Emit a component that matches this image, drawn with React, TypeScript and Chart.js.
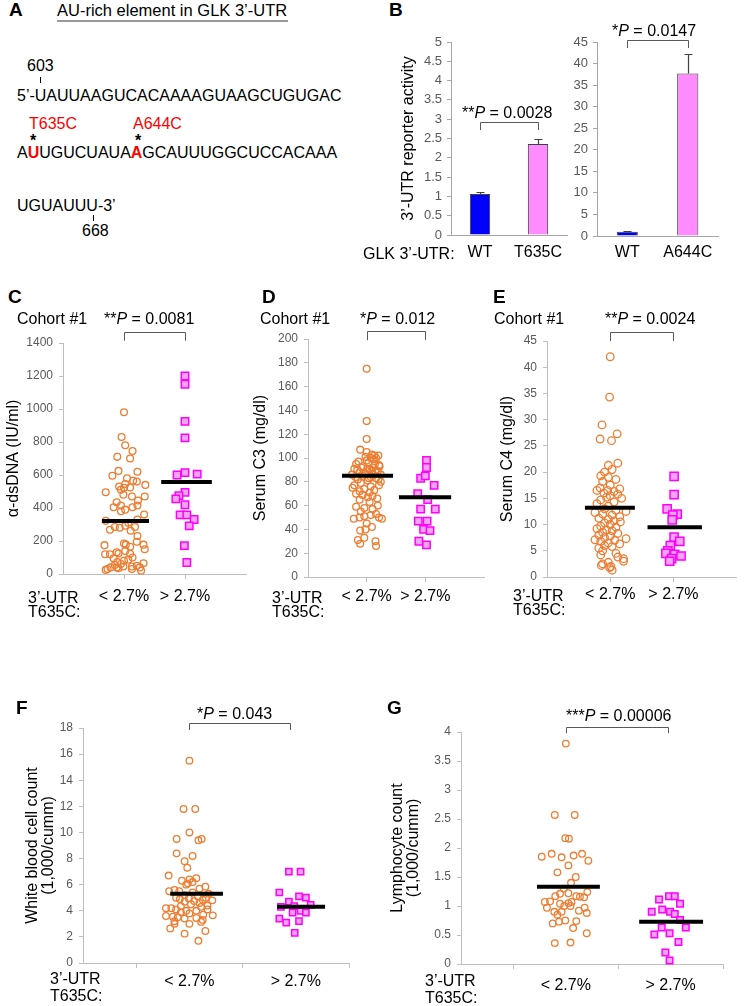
import React, { useEffect, useRef } from 'react';
import { Chart, registerables } from 'chart.js';

Chart.register(...registerables);

const FONT = '"Liberation Sans", Arial, Helvetica, sans-serif';
Chart.defaults.font.family = FONT;

// ---------------- Panel B data ----------------
const bLabelsT635C = ['WT', 'T635C'];
const bValuesT635C = [1.06, 2.36];
const bErrorsT635C = [0.05, 0.12];
const bLabelsA644C = ['WT', 'A644C'];
const bValuesA644C = [1.0, 37.7];
const bErrorsA644C = [0.15, 4.6];
const barColors = ['#0000ff', '#ff8cff'];

// ---------------- Scatter panels ----------------
const groupLabels = ['< 2.7%', '> 2.7%'];

// C: anti-dsDNA (IU/ml)
const cLowValues = [980, 830, 780, 745, 710, 700, 625, 620, 595, 580, 565, 560, 545, 540, 530, 522, 525, 510, 495, 480, 470, 470, 445, 435, 415, 415, 405, 405, 390, 380, 360, 322, 330, 310, 292, 285, 285, 280, 268, 262, 230, 195, 185, 178, 175, 178, 165, 150, 140, 132, 124, 120, 120, 122, 100, 95, 87, 80, 72, 65, 60, 55, 50, 45, 45, 40, 40, 40, 35, 30, 30, 25, 20];
const cLowJitter = [0, -0.04, 0.02, 0.14, -0.11, 0.10, -0.09, 0.22, -0.19, 0.05, 0.15, 0.21, 0.02, 0.35, -0.08, 0, 0.10, -0.05, -0.30, -0.01, 0.13, 0.34, 0.23, -0.12, -0.05, 0.22, 0.14, -0.17, 0.02, -0.05, 0.33, -0.30, 0.22, 0.07, 0.02, -0.15, 0.18, -0.07, -0.23, 0.11, 0.22, 0.21, 0, 0.03, -0.32, 0.32, 0.10, 0.34, 0.02, -0.12, -0.09, -0.23, -0.31, 0.10, 0.14, -0.17, 0.07, 0, -0.11, 0.32, -0.05, -0.15, 0.21, 0.13, -0.01, -0.12, -0.22, 0.26, -0.09, -0.27, 0.13, -0.30, 0.28];
const cHighValues = [1200, 1150, 925, 825, 614, 600, 605, 495, 475, 455, 420, 358, 358, 330, 292, 172, 70];
const cHighJitter = [0, 0, 0, 0, 0, -0.13, 0.2, 0, -0.10, -0.15, 0, -0.08, 0.03, 0.15, 0.07, -0.01, 0.03];
const cMeans = [321, 557];

// D: serum C3 (mg/dl)
const dLowValues = [175, 131, 116, 107, 105, 103, 102, 102, 100, 100, 98, 95, 94, 93, 92, 91, 90, 89, 88, 87, 86, 86, 85, 84, 83, 82, 81, 80, 79, 77, 77, 76, 75, 74, 73, 72, 71, 70, 69, 68, 67, 66, 65, 63, 60, 59, 58, 57, 55, 53, 52, 51, 50, 50, 49, 49, 45, 42, 40, 39, 33, 31, 28, 30, 26, 101, 99, 97, 96, 95, 93, 92, 91, 90, 89, 88, 87, 86, 84, 83, 82];
const dLowJitter = [0, 0, 0, -0.11, 0, 0.09, 0.13, 0.20, 0.07, 0.16, 0, -0.18, 0.21, -0.06, 0.10, -0.21, 0.05, 0.19, -0.12, 0.10, 0.24, -0.25, -0.07, 0.07, 0.16, -0.15, 0.02, 0.24, -0.10, -0.21, 0.21, 0.07, -0.24, -0.04, 0.13, -0.12, 0.05, -0.18, -0.07, 0.10, 0.02, 0.18, -0.12, 0.05, 0.19, -0.18, -0.04, 0.10, -0.10, 0.16, 0.07, -0.04, -0.12, 0.21, 0.26, -0.22, 0, 0.09, -0.02, -0.11, -0.04, -0.15, -0.11, 0.15, 0.16, -0.02, 0.12, -0.14, 0.03, 0.14, 0.22, -0.09, 0.01, -0.16, 0.08, 0.15, -0.03, 0.11, -0.19, 0.04, 0.20];
const dHighValues = [98, 92, 83, 85, 77, 70, 65, 57, 57, 47, 47, 40, 39, 30, 27];
const dHighJitter = [0.02, 0.02, -0.08, 0, 0.15, -0.13, 0.04, -0.08, 0.17, -0.12, 0.03, -0.03, 0.08, -0.11, 0.02];
const dMeans = [85, 67];

// E: serum C4 (mg/dl)
const eLowValues = [42, 34.3, 29, 27.3, 26.3, 26, 21.7, 21.3, 20.5, 20, 19.3, 19, 18.6, 18.2, 17.5, 17, 16.8, 16.5, 16.3, 16.5, 16, 15.8, 15.5, 15.2, 15, 14.7, 14.3, 14, 13.5, 13, 12.7, 12.5, 12.3, 12, 11.8, 11.5, 11.2, 11, 10.7, 10.5, 10.3, 10, 9.7, 9.5, 9.2, 9, 8.8, 8.5, 8.3, 8, 7.8, 7.5, 7.3, 7.1, 7, 6.8, 6.5, 6.3, 6, 5.8, 5.5, 5, 4.5, 4.2, 3.8, 3.5, 3, 2.8, 2.5, 2.2, 2, 1.8, 1.3];
const eLowJitter = [0, -0.01, -0.13, 0.11, -0.16, 0.02, 0.12, -0.03, 0.03, -0.09, -0.15, -0.03, 0.09, -0.12, 0, -0.16, 0.15, -0.04, 0.06, -0.21, -0.10, 0.12, 0, -0.06, 0.18, -0.15, 0.06, -0.21, -0.03, -0.09, 0.09, 0.25, -0.24, -0.12, 0.03, 0.15, -0.18, -0.03, 0.06, 0.16, -0.09, 0, -0.15, 0.09, -0.21, -0.06, 0.03, -0.12, 0.12, -0.18, 0, -0.09, 0.25, -0.24, 0.07, -0.15, -0.03, 0.15, -0.09, 0.03, -0.18, -0.12, 0.09, -0.15, 0.12, 0.21, 0.21, -0.03, -0.12, -0.14, 0.01, -0.01, 0.03];
const eHighValues = [19.2, 15.7, 13, 12, 11.8, 10.9, 7.6, 6.8, 6, 5, 4.5, 4.3, 4, 3.5, 3];
const eHighJitter = [0.01, 0.01, -0.10, 0.06, -0.01, -0.02, 0.01, 0.10, -0.05, -0.09, -0.12, 0.02, 0.12, -0.03, -0.06];
const eMeans = [13.2, 9.5];

// F: white blood cell count (1,000/cumm)
const fLowValues = [15.5, 11.8, 11.8, 10, 9.5, 9.4, 9.5, 8.4, 8.2, 7.8, 7.3, 6.7, 6.5, 6.3, 6.4, 6.2, 6.1, 6.0, 5.85, 5.7, 5.6, 5.5, 5.5, 5.4, 5.3, 5.2, 5.1, 5.0, 5.0, 4.95, 4.9, 4.85, 4.8, 4.75, 4.7, 4.6, 4.5, 4.4, 4.35, 4.3, 4.2, 4.2, 4.1, 4.1, 4.0, 4.0, 3.9, 3.8, 3.7, 3.65, 3.6, 3.55, 3.5, 3.45, 3.4, 3.3, 3.2, 3.15, 3.0, 3.0, 2.65, 2.45, 2.25, 1.7];
const fLowJitter = [0, -0.11, 0.11, 0, -0.24, 0.17, 0.23, -0.24, 0.06, -0.09, -0.04, -0.39, 0.13, -0.14, 0, 0.06, -0.03, -0.06, 0.30, 0.19, -0.28, -0.38, -0.19, 0.06, 0.36, -0.09, 0.16, -0.25, 0.31, -0.01, -0.18, 0.25, 0.43, 0.09, -0.09, 0.19, 0.03, 0.34, -0.16, 0.22, -0.44, -0.34, -0.25, 0.34, -0.06, 0.13, -0.16, 0, 0.26, 0.44, -0.44, -0.31, -0.22, 0.13, -0.09, 0.25, -0.28, 0.22, 0, -0.28, -0.36, 0.30, -0.09, 0.17];
const fHighValues = [7.0, 7.0, 5.4, 5.1, 5.0, 4.7, 4.3, 4.35, 4.45, 4.0, 3.85, 3.85, 3.4, 3.1, 3.2, 2.3];
const fHighJitter = [-0.13, 0.09, -0.31, 0.06, 0.19, -0.13, -0.28, -0.03, 0.28, 0.09, -0.06, 0.19, -0.31, -0.18, 0.06, -0.02];
const fMeans = [5.3, 4.3];

// G: lymphocyte count (1,000/cumm)
const gLowValues = [3.8, 2.57, 2.57, 2.17, 2.16, 1.85, 1.9, 1.84, 1.87, 1.9, 1.78, 1.7, 1.58, 1.5, 1.4, 1.3, 1.24, 1.21, 1.22, 1.17, 1.16, 1.15, 1.17, 1.07, 1.08, 1.04, 1.07, 1.05, 1.0, 1.0, 0.97, 0.97, 0.9, 0.92, 0.9, 0.85, 0.88, 0.73, 0.75, 0.74, 0.7, 0.62, 0.53, 0.36, 0.37];
const gLowJitter = [0, -0.21, 0.17, -0.01, 0.06, -0.46, -0.27, -0.08, 0.15, 0.31, 0.43, 0.05, -0.16, 0.19, 0.10, -0.04, 0.41, -0.11, 0.05, 0.20, 0.27, 0.35, -0.20, -0.40, -0.30, -0.11, 0.11, 0.05, -0.03, 0.09, -0.36, 0.36, -0.22, 0.25, -0.08, -0.16, 0.40, -0.13, -0.01, 0.20, -0.25, 0.14, 0.40, -0.21, 0.09];
const gHighValues = [1.11, 1.17, 1.17, 0.94, 0.9, 0.9, 0.86, 1.04, 0.76, 0.63, 0.63, 0.51, 0.53, 0.38, 0.2, 0.06];
const gHighJitter = [-0.22, -0.03, 0.08, -0.16, -0.36, -0.01, 0.08, 0.18, 0.18, -0.17, 0.29, -0.31, -0.02, 0.15, -0.10, -0.02];
const gMeans = [1.33, 0.73];

// ---------------- helpers ----------------
function pts(values: number[], jitter: number[], center: number) {
  return values.map((v, i) => ({ x: center + jitter[i], y: v }));
}

type Bracket = { x1: number; x2: number; yTop: number; yLeg: number };

function overlayPlugin(bracket?: Bracket, values?: number[], errors?: number[]) {
  return {
    id: 'overlay',
    afterDraw(chart: any) {
      const ctx = chart.ctx;
      const xs = chart.scales.x;
      const ys = chart.scales.y;
      ctx.save();
      if (values && errors) {
        const meta = chart.getDatasetMeta(0);
        ctx.strokeStyle = '#404040';
        ctx.lineWidth = 1.2;
        meta.data.forEach((el: any, i: number) => {
          const x = Math.round(el.x) + 0.5;
          const y0 = ys.getPixelForValue(values[i]);
          const y1 = Math.round(ys.getPixelForValue(values[i] + errors[i])) + 0.5;
          ctx.beginPath();
          ctx.moveTo(x, y0);
          ctx.lineTo(x, y1);
          ctx.moveTo(x - 4, y1);
          ctx.lineTo(x + 4, y1);
          ctx.stroke();
        });
      }
      if (bracket) {
        const x1 = Math.round(xs.getPixelForValue(bracket.x1)) + 0.5;
        const x2 = Math.round(xs.getPixelForValue(bracket.x2)) + 0.5;
        const yt = Math.round(ys.getPixelForValue(bracket.yTop)) + 0.5;
        const yl = ys.getPixelForValue(bracket.yLeg);
        ctx.strokeStyle = '#595959';
        ctx.lineWidth = 1;
        ctx.beginPath();
        ctx.moveTo(x1, yl);
        ctx.lineTo(x1, yt);
        ctx.lineTo(x2, yt);
        ctx.lineTo(x2, yl);
        ctx.stroke();
      }
      ctx.restore();
    },
  };
}

function ChartCanvas({ left, top, width, height, build }: { left: number; top: number; width: number; height: number; build: () => any }) {
  const ref = useRef<HTMLCanvasElement>(null);
  useEffect(() => {
    const chart = new Chart(ref.current as HTMLCanvasElement, build());
    return () => chart.destroy();
  }, []);
  return (
    <canvas
      ref={ref}
      width={width}
      height={height}
      style={{ position: 'absolute', left, top, width, height }}
    />
  );
}

type BarSpec = {
  labels: string[];
  values: number[];
  errors: number[];
  yMax: number;
  yStep: number;
  yTitle?: string;
  yW: number;
  xH: number;
  padTop: number;
  padRight: number;
  labelPad: number;
  bracket: Bracket;
};

function barConfig(s: BarSpec) {
  return {
    type: 'bar',
    data: {
      labels: s.labels,
      datasets: [
        {
          data: s.values,
          backgroundColor: barColors,
          borderColor: '#404040',
          borderWidth: 1,
          barPercentage: 0.35,
          categoryPercentage: 1,
        },
      ],
    },
    options: {
      responsive: false,
      maintainAspectRatio: false,
      animation: false,
      devicePixelRatio: 1,
      layout: { padding: { top: s.padTop, right: s.padRight, left: 0, bottom: 0 } },
      plugins: { legend: { display: false }, tooltip: { enabled: false } },
      scales: {
        x: {
          type: 'category',
          afterFit: (sc: any) => { sc.height = s.xH; },
          grid: { display: false, drawTicks: false },
          border: { display: true, color: '#a6a6a6', width: 1 },
          ticks: { font: { family: FONT, size: 16 }, color: '#000', padding: s.labelPad, maxRotation: 0, autoSkip: false },
        },
        y: {
          type: 'linear',
          min: 0,
          max: s.yMax,
          afterFit: (sc: any) => { sc.width = s.yW; },
          grid: { drawOnChartArea: false, drawTicks: true, tickLength: 4, color: '#a6a6a6' },
          border: { display: true, color: '#a6a6a6', width: 1 },
          ticks: {
            stepSize: s.yStep,
            font: { family: FONT, size: 13 },
            color: '#595959',
            padding: 5,
            callback: (v: any) => String(Math.round(Number(v) * 100) / 100),
          },
          title: s.yTitle
            ? { display: true, text: s.yTitle, color: '#000', font: { family: FONT, size: 16 }, padding: { top: 4, bottom: 4 } }
            : { display: false },
        },
      },
    },
    plugins: [overlayPlugin(s.bracket, s.values, s.errors)],
  };
}

type ScatterSpec = {
  low: { x: number; y: number }[];
  high: { x: number; y: number }[];
  means: number[];
  meanSpans: [number, number][];
  groupX: number[];
  xMax: number;
  xTicks: number[];
  xMarks: number[];
  yMax: number;
  yStep: number;
  yTitle: string | string[];
  titleLH: number;
  yW: number;
  xH: number;
  padTop: number;
  padRight: number;
  labelPad: number;
  circleR: number;
  squareR: number;
  bracket: Bracket;
};

function scatterConfig(s: ScatterSpec) {
  const meanSets = s.means.map((m, i) => ({
    data: [
      { x: s.meanSpans[i][0], y: m },
      { x: s.meanSpans[i][1], y: m },
    ],
    showLine: true,
    borderColor: '#000',
    borderWidth: 4,
    borderCapStyle: 'butt',
    pointRadius: 0,
    clip: false,
  }));
  return {
    type: 'scatter',
    data: {
      datasets: [
        ...meanSets,
        {
          data: s.high,
          pointStyle: 'rect',
          pointRadius: s.squareR,
          backgroundColor: '#f5a3f5',
          borderColor: '#ff00ff',
          borderWidth: 1.5,
          clip: false,
        },
        {
          data: s.low,
          pointStyle: 'circle',
          pointRadius: s.circleR,
          backgroundColor: 'rgba(255,255,255,0)',
          borderColor: '#ed7d31',
          borderWidth: 1.3,
          clip: false,
        },
      ],
    },
    options: {
      responsive: false,
      maintainAspectRatio: false,
      animation: false,
      devicePixelRatio: 1,
      layout: { padding: { top: s.padTop, right: s.padRight, left: 0, bottom: 0 } },
      plugins: { legend: { display: false }, tooltip: { enabled: false } },
      scales: {
        x: {
          type: 'linear',
          min: 0,
          max: s.xMax,
          afterBuildTicks: (sc: any) => { sc.ticks = s.xTicks.map((v) => ({ value: v })); },
          afterFit: (sc: any) => { sc.height = s.xH; },
          grid: {
            display: true,
            drawOnChartArea: false,
            drawTicks: true,
            tickLength: 5,
            color: (c: any) => (c.tick && s.xMarks.includes(c.tick.value) ? '#bfbfbf' : 'rgba(0,0,0,0)'),
          },
          border: { display: true, color: '#bfbfbf', width: 1 },
          ticks: {
            font: { family: FONT, size: 16 },
            color: '#000',
            padding: s.labelPad,
            maxRotation: 0,
            autoSkip: false,
            callback: (v: any) => {
              const idx = s.groupX.indexOf(Number(v));
              return idx >= 0 ? groupLabels[idx] : '';
            },
          },
        },
        y: {
          type: 'linear',
          min: 0,
          max: s.yMax,
          afterFit: (sc: any) => { sc.width = s.yW; },
          grid: { drawOnChartArea: false, drawTicks: true, tickLength: 4, color: '#bfbfbf' },
          border: { display: true, color: '#bfbfbf', width: 1 },
          ticks: {
            stepSize: s.yStep,
            font: { family: FONT, size: 12 },
            color: '#595959',
            padding: 6,
            callback: (v: any) => String(Math.round(Number(v) * 100) / 100),
          },
          title: {
            display: true,
            text: s.yTitle,
            color: '#000',
            font: { family: FONT, size: 16, lineHeight: s.titleLH },
            padding: { top: 4, bottom: 4 },
          },
        },
      },
    },
    plugins: [overlayPlugin(s.bracket)],
  };
}

// ---------------- text helpers ----------------
function T({ x, y, size = 16, bold = false, color = '#000', children }: any) {
  return (
    <div
      style={{
        position: 'absolute',
        left: x,
        top: y - size * 0.59,
        fontSize: size,
        lineHeight: `${size * 1.2}px`,
        fontWeight: bold ? 700 : 400,
        color,
        whiteSpace: 'nowrap',
        fontFamily: FONT,
      }}
    >
      {children}
    </div>
  );
}

function Star({ cx, y }: { cx: number; y: number }) {
  return (
    <div
      style={{
        position: 'absolute',
        left: cx - 10,
        width: 20,
        textAlign: 'center',
        top: y - 16 * 0.38,
        fontSize: 16,
        lineHeight: '19.2px',
        fontWeight: 700,
        fontFamily: FONT,
      }}
    >
      *
    </div>
  );
}

function PText({ x, y, stars, value }: { x: number; y: number; stars: string; value: string }) {
  return (
    <T x={x} y={y}>
      {stars}
      <i>P</i> = {value}
    </T>
  );
}

function Tick({ x, y, h }: { x: number; y: number; h: number }) {
  return <div style={{ position: 'absolute', left: x, top: y, width: 1, height: h, background: '#000' }} />;
}

function UtrLabel({ x, y1, y2 }: { x: number; y1: number; y2: number }) {
  return (
    <>
      <T x={x} y={y1}>3’-UTR</T>
      <T x={x} y={y2}>T635C:</T>
    </>
  );
}

const red = '#ff0000';

export default function App() {
  return (
    <div
      style={{
        position: 'absolute',
        left: 0,
        top: 0,
        width: 744,
        height: 1006,
        background: '#fff',
        overflow: 'hidden',
        fontFamily: FONT,
      }}
    >
      {/* ---------- Charts ---------- */}
      <ChartCanvas
        left={395}
        top={25}
        width={180}
        height={240}
        build={() =>
          barConfig({
            labels: bLabelsT635C,
            values: bValuesT635C,
            errors: bErrorsT635C,
            yMax: 5,
            yStep: 0.5,
            yTitle: '3’-UTR reporter activity',
            yW: 56,
            xH: 30,
            padTop: 17,
            padRight: 8,
            labelPad: 8,
            bracket: { x1: 0, x2: 1, yTop: 2.93, yLeg: 2.72 },
          })
        }
      />
      <ChartCanvas
        left={565}
        top={25}
        width={161}
        height={240}
        build={() =>
          barConfig({
            labels: bLabelsA644C,
            values: bValuesA644C,
            errors: bErrorsA644C,
            yMax: 45,
            yStep: 5,
            yW: 32,
            xH: 29,
            padTop: 17,
            padRight: 8,
            labelPad: 7,
            bracket: { x1: 0, x2: 1, yTop: 45.5, yLeg: 43.6 },
          })
        }
      />
      <ChartCanvas
        left={0}
        top={322}
        width={254}
        height={282}
        build={() =>
          scatterConfig({
            low: pts(cLowValues, cLowJitter, 1),
            high: pts(cHighValues, cHighJitter, 2),
            means: cMeans,
            meanSpans: [[0.64, 1.41], [1.61, 2.44]],
            groupX: [1, 2],
            xMax: 3,
            xTicks: [1, 2],
            xMarks: [1, 2],
            yMax: 1400,
            yStep: 200,
            yTitle: 'α-dsDNA (IU/ml)',
            titleLH: 1.2,
            yW: 63,
            xH: 30,
            padTop: 21,
            padRight: 8,
            labelPad: 8,
            circleR: 3.4,
            squareR: 5.2,
            bracket: { x1: 1, x2: 2, yTop: 1468, yLeg: 1414 },
          })
        }
      />
      <ChartCanvas
        left={247}
        top={322}
        width={245}
        height={285}
        build={() =>
          scatterConfig({
            low: pts(dLowValues, dLowJitter, 1),
            high: pts(dHighValues, dHighJitter, 2),
            means: dMeans,
            meanSpans: [[0.58, 1.45], [1.55, 2.44]],
            groupX: [1, 2],
            xMax: 3,
            xTicks: [1, 2],
            xMarks: [1, 2],
            yMax: 200,
            yStep: 20,
            yTitle: 'Serum C3 (mg/dl)',
            titleLH: 1.2,
            yW: 61,
            xH: 30,
            padTop: 17,
            padRight: 8,
            labelPad: 5,
            circleR: 3.4,
            squareR: 5.2,
            bracket: { x1: 1, x2: 2, yTop: 207, yLeg: 199 },
          })
        }
      />
      <ChartCanvas
        left={494}
        top={322}
        width={250}
        height={285}
        build={() =>
          scatterConfig({
            low: pts(eLowValues, eLowJitter, 1),
            high: pts(eHighValues, eHighJitter, 2),
            means: eMeans,
            meanSpans: [[0.6, 1.39], [1.59, 2.45]],
            groupX: [1, 2],
            xMax: 3,
            xTicks: [1, 2],
            xMarks: [1, 2],
            yMax: 45,
            yStep: 5,
            yTitle: 'Serum C4 (mg/dl)',
            titleLH: 1.2,
            yW: 53,
            xH: 30,
            padTop: 19,
            padRight: 1,
            labelPad: 3,
            circleR: 3.8,
            squareR: 5.8,
            bracket: { x1: 1, x2: 2, yTop: 46.7, yLeg: 45 },
          })
        }
      />
      <ChartCanvas
        left={21}
        top={712}
        width={336}
        height={281}
        build={() =>
          scatterConfig({
            low: pts(fLowValues, fLowJitter, 2),
            high: pts(fHighValues, fHighJitter, 4),
            means: fMeans,
            meanSpans: [[1.64, 2.63], [3.65, 4.55]],
            groupX: [2, 4],
            xMax: 5,
            xTicks: [1, 2, 3, 4, 5],
            xMarks: [1, 3, 5],
            yMax: 18,
            yStep: 2,
            yTitle: ['White blood cell count', '(1,000/cumm)'],
            titleLH: 1,
            yW: 62,
            xH: 30,
            padTop: 16,
            padRight: 8,
            labelPad: 4,
            circleR: 3.3,
            squareR: 4.4,
            bracket: { x1: 2, x2: 3.9, yTop: 18.4, yLeg: 17.85 },
          })
        }
      />
      <ChartCanvas
        left={386}
        top={712}
        width={345}
        height={282}
        build={() =>
          scatterConfig({
            low: pts(gLowValues, gLowJitter, 2),
            high: pts(gHighValues, gHighJitter, 4),
            means: gMeans,
            meanSpans: [[1.45, 2.65], [3.4, 4.62]],
            groupX: [2, 4],
            xMax: 5,
            xTicks: [1, 2, 3, 4, 5],
            xMarks: [1, 3, 5],
            yMax: 4,
            yStep: 0.5,
            yTitle: ['Lymphocyte count', '(1,000/cumm)'],
            titleLH: 1,
            yW: 75,
            xH: 30,
            padTop: 20,
            padRight: 8,
            labelPad: 7,
            circleR: 3.3,
            squareR: 4.6,
            bracket: { x1: 2, x2: 3.95, yTop: 4.09, yLeg: 3.98 },
          })
        }
      />

      {/* ---------- Panel A ---------- */}
      <T x={9} y={10} size={19} bold>A</T>
      <T x={57} y={11} size={16.5}>AU-rich element in GLK 3’-UTR</T>
      <div style={{ position: 'absolute', left: 57, top: 20, width: 231, height: 2, background: '#9a9a9a' }} />
      <T x={27} y={65}>603</T>
      <Tick x={40} y={77} h={6} />
      <T x={17} y={95}>5’-UAUUAAGUCACAAAAGUAAGCUGUGAC</T>
      <T x={29} y={123} color={red}>T635C</T>
      <T x={133} y={123} color={red}>A644C</T>
      <Star cx={33} y={137} />
      <Star cx={138} y={137} />
      <T x={17} y={152}>
        A<b style={{ color: red }}>U</b>UGUCUAUA<b style={{ color: red }}>A</b>GCAUUUGGCUCCACAAA
      </T>
      <T x={17} y={205}>UGUAUUU-3’</T>
      <Tick x={93} y={215} h={6} />
      <T x={82} y={230}>668</T>

      {/* ---------- Panel B ---------- */}
      <T x={389} y={10} size={19} bold>B</T>
      <PText x={462} y={112} stars="**" value="0.0028" />
      <PText x={612} y={30} stars="*" value="0.0147" />
      <T x={363} y={253}>GLK 3’-UTR:</T>

      {/* ---------- Panels C, D, E ---------- */}
      <T x={8} y={297} size={19} bold>C</T>
      <T x={262} y={297} size={19} bold>D</T>
      <T x={493} y={297} size={19} bold>E</T>
      <T x={17} y={318}>Cohort #1</T>
      <T x={260} y={318}>Cohort #1</T>
      <T x={494} y={318}>Cohort #1</T>
      <PText x={104} y={318} stars="**" value="0.0081" />
      <PText x={360} y={318} stars="*" value="0.012" />
      <PText x={605} y={318} stars="**" value="0.0024" />
      <UtrLabel x={28} y1={597} y2={611} />
      <UtrLabel x={272} y1={597} y2={611} />
      <UtrLabel x={513} y1={595} y2={609} />

      {/* ---------- Panels F, G ---------- */}
      <T x={16} y={708} size={19} bold>F</T>
      <T x={387} y={708} size={19} bold>G</T>
      <PText x={197} y={713} stars="*" value="0.043" />
      <PText x={566} y={715} stars="***" value="0.00006" />
      <UtrLabel x={50} y1={978} y2={995} />
      <UtrLabel x={425} y1={980} y2={997} />
    </div>
  );
}
